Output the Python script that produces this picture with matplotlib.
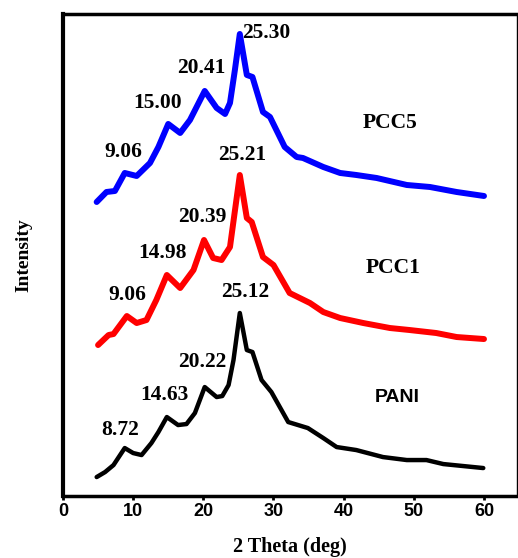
import numpy as np
import matplotlib.pyplot as plt

# 2 theta (deg) and intensity (a.u., curves offset as in the figure)
x_pani = [4.8, 6.0, 7.2, 8.8, 10.0, 11.2, 12.6, 13.6, 14.8, 16.4, 17.6, 18.8, 20.2, 21.9,
          22.7, 23.6, 24.3, 25.2, 26.2, 27.0, 28.3, 29.7, 32.1, 33.5, 34.9, 37.1, 39.0,
          41.8, 45.6, 49.0, 51.8, 54.2, 59.9]
y_pani = [19, 24, 31, 48, 43, 41, 53, 64, 79, 71, 72, 83, 109, 99,
          100, 111, 136, 183, 146, 144, 116, 104, 74, 71, 68, 58, 49,
          46, 39, 36, 36, 32, 28]

x_pcc1 = [5.0, 6.5, 7.2, 9.1, 10.5, 11.9, 13.3, 14.8, 16.7, 18.6, 20.1, 21.4, 22.6, 23.8,
          24.4, 25.2, 26.2, 26.9, 28.5, 30.0, 32.3, 35.2, 37.1, 39.5, 42.8, 46.6, 49.4,
          53.2, 56.1, 60.0]
y_pcc1 = [151, 161, 162, 180, 173, 176, 196, 221, 208, 226, 256, 238, 236, 249,
          280, 321, 278, 274, 239, 231, 203, 193, 184, 178, 173, 168, 166,
          163, 159, 157]

x_pcc5 = [4.8, 6.2, 7.4, 8.8, 10.5, 12.4, 13.6, 15.0, 16.7, 18.1, 20.2, 21.9, 23.1, 23.8,
          24.5, 25.2, 26.2, 27.0, 28.5, 29.5, 31.6, 33.3, 34.2, 37.1, 39.5, 41.8, 44.7,
          49.0, 52.3, 56.1, 60.0]
y_pcc5 = [294, 304, 305, 323, 320, 333, 349, 372, 363, 376, 405, 388, 382, 393,
          426, 462, 421, 419, 384, 379, 349, 339, 338, 329, 323, 321, 318,
          311, 309, 304, 300]

peak_labels = ["9.06", "15.00", "20.41", "25.30", "9.06", "14.98", "20.39", "25.21",
               "8.72", "14.63", "20.22", "25.12"]
peak_lx = [8.6, 13.5, 19.7, 29.0, 9.1, 14.2, 19.9, 25.6, 8.1, 14.4, 19.9, 25.9]
peak_ly = [344, 393, 428, 463, 201, 243, 279, 341, 66, 101, 134, 204]

names = ["PCC5", "PCC1", "PANI"]
name_x = [46.6, 47.0, 47.6]
name_y = [373, 228, 99]

fig = plt.figure(figsize=(5.18, 5.58), dpi=100)
ax = fig.add_axes([0.1216, 0.111, 0.8764, 0.864])

ax.plot(x_pcc5, y_pcc5, color="#0000ff", lw=4.3, solid_joinstyle="round", solid_capstyle="round")
ax.plot(x_pcc1, y_pcc1, color="#ff0000", lw=4.3, solid_joinstyle="round", solid_capstyle="round")
ax.plot(x_pani, y_pani, color="black", lw=3.2, solid_joinstyle="round", solid_capstyle="round")

serif = "Liberation Serif"
for s, lx, ly in zip(peak_labels, peak_lx, peak_ly):
    ax.text(lx, ly, s, ha="center", va="center", fontsize=15.5, fontweight="bold", family=serif)

for s, nx, ny in zip(names, name_x, name_y):
    fam = "Liberation Sans" if s == "PANI" else serif
    ax.text(nx, ny, s, ha="center", va="center", fontsize=15.5 if fam == serif else 14,
            fontweight="bold", family=fam)

ax.set_xlim(0, 64.7)
ax.set_ylim(0, 482)
ax.set_xticks([0, 10, 20, 30, 40, 50, 60])
ax.set_yticks([])
ax.tick_params(axis="x", direction="out", length=3, width=2, pad=2)
for lab in ax.get_xticklabels():
    lab.set_family("Liberation Sans")
    lab.set_fontweight("bold")
    lab.set_fontsize(13)

ax.spines["left"].set_linewidth(3)
ax.spines["bottom"].set_linewidth(2.5)
ax.spines["top"].set_linewidth(2.5)
ax.spines["right"].set_linewidth(1)

ax.set_xlabel("2 Theta (deg)", fontsize=14.5, fontweight="bold", family=serif, labelpad=12)
ax.set_ylabel("Intensity", fontsize=14, fontweight="bold", family=serif, labelpad=22)

fig.savefig("out.png", dpi=100)
